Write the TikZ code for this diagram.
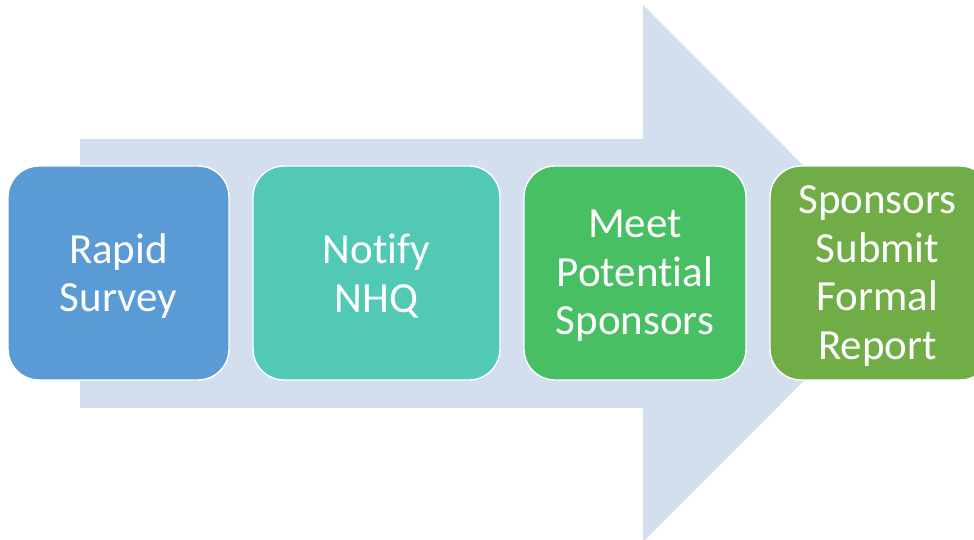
\documentclass[tikz,border=0pt]{standalone}
\usepackage{fontspec}
\setmainfont[Ligatures=NoCommon]{Carlito}
\definecolor{arrowfill}{HTML}{D3DEEF}
\definecolor{cblue}{HTML}{5B9BD5}
\definecolor{cteal}{HTML}{52C9B5}
\definecolor{cgreen}{HTML}{48BF63}
\definecolor{colive}{HTML}{70AD47}
\begin{document}
\begin{tikzpicture}[x=1pt,y=1pt,
  stagebox/.style={rectangle, rounded corners=31pt, draw=white, line width=1.4pt,
    minimum height=214pt, inner sep=0pt},
  stagetext/.style={inner sep=0pt, align=center, text=white,
    font=\fontsize{43}{48.5}\selectfont}]
\useasboundingbox (0,0) rectangle (974,540);
\clip (0,0) rectangle (974,540);
% big background arrow
\fill[arrowfill] (80,401) -- (643,401) -- (643,535) -- (911,266.5) -- (643,-2) -- (643,132) -- (80,132) -- cycle;
% stages
\node[stagebox, fill=cblue, minimum width=221pt] (s1) at (118.5,267) {};
\node[stagebox, fill=cteal, minimum width=247pt] (s2) at (376.5,267) {};
\node[stagebox, fill=cgreen, minimum width=222pt] (s3) at (635,267) {};
\node[stagebox, fill=colive, minimum width=221pt] (s4) at (880.5,267) {};
\node[stagetext] (t1) at ([yshift=-3pt]s1.center) {Rapid\\Survey};
\node[stagetext] (t2) at ([yshift=-3pt]s2.center) {Notify\\NHQ};
\node[stagetext] (t3) at ([yshift=-3pt]s3.center) {Meet\\Potential\\Sponsors};
\node[stagetext] (t4) at ([xshift=-3pt,yshift=-3pt]s4.center) {Sponsors\\Submit\\Formal\\Report};
\end{tikzpicture}
\end{document}
